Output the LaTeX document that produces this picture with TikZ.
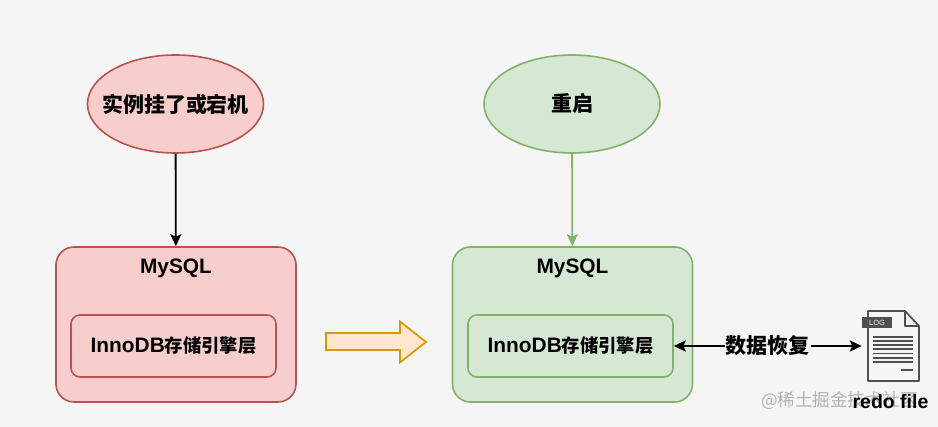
\documentclass[tikz,border=0pt]{standalone}
\usepackage{fontspec}
\setmainfont{Liberation Sans}
\newfontfamily\cjk{Noto Sans CJK SC}
\usepackage{tikz}
\usetikzlibrary{arrows.meta,positioning,shapes.geometric}

\definecolor{bgcol}{HTML}{F5F5F5}
\definecolor{redfill}{HTML}{F8CECC}
\definecolor{redline}{HTML}{B85450}
\definecolor{greenfill}{HTML}{D5E8D4}
\definecolor{greenline}{HTML}{82B366}
\definecolor{orangefill}{HTML}{FFE6CC}
\definecolor{orangeline}{HTML}{D79B00}
\definecolor{icongray}{HTML}{505050}

\begin{document}
\begin{tikzpicture}[x=1pt,y=-1pt,
    >={Stealth[length=12pt,width=11pt,inset=2.5pt]},
    state node/.style={ellipse,line width=1.6pt,minimum width=176pt,minimum height=98pt,
                       inner xsep=-14pt,inner ysep=0pt,
                       font=\cjk\bfseries\fontsize{21}{25}\selectfont},
    server box/.style={rectangle,rounded corners=18pt,line width=1.6pt,minimum width=240pt,minimum height=155pt},
    engine box/.style={rectangle,rounded corners=9pt,line width=1.6pt,minimum width=205pt,minimum height=62pt,
                       font=\bfseries\fontsize{20.9}{25}\selectfont},
    title node/.style={font=\bfseries\fontsize{20.9}{25}\selectfont,inner sep=0pt}]

  \path[use as bounding box,fill=bgcol] (0,0) rectangle (938,427);

  % before: crashed instance
  \node[state node,draw=redline,fill=redfill] (crash) at (175.5,104) {实例挂了或宕机};
  \node[server box,draw=redline,fill=redfill] (mysqlA) at (176,324.5) {};
  \node[title node] (titleA) at (176,268) {MySQL};
  \node[engine box,draw=redline,fill=redfill] (innoA) at (173.5,346)
       {InnoDB{\cjk\fontsize{18.3}{22}\selectfont 存储引擎层}};

  % after: restarted instance
  \node[state node,draw=greenline,fill=greenfill] (restart) at (572,104) {重启};
  \node[server box,draw=greenline,fill=greenfill] (mysqlB) at (572.5,324.5) {};
  \node[title node] (titleB) at (572.5,268) {MySQL};
  \node[engine box,draw=greenline,fill=greenfill] (innoB) at (570.5,346)
       {InnoDB{\cjk\fontsize{18.3}{22}\selectfont 存储引擎层}};

  % redo log file
  \node[minimum width=57pt,minimum height=70pt,inner sep=0pt] (redo) at (890.5,346) {};
  \draw[icongray,line width=1.7pt,fill=bgcol,line join=round]
    (868,311) -- (905,311) -- (919,326) -- (919,381) -- (868,381) -- cycle;
  \draw[icongray,line width=1.7pt,line join=round] (905,311) -- (905,326) -- (919,326);
  \fill[icongray] (862,317) rectangle (892,328);
  \node[text=bgcol,font=\fontsize{7.5}{8}\selectfont,inner sep=0pt] (logtag) at (877,322.5) {LOG};
  \foreach \y in {336.7,340.9,345.1,349.3,353.5,357.7,361.9}
    \draw[icongray,line width=1.7pt] (873,\y) -- (913,\y);
  \draw[icongray,line width=1.7pt] (900.5,370) -- (913,370);

  \node[anchor=west,text=black!30,font=\cjk\fontsize{17.5}{20}\selectfont,inner sep=0pt] (mark) at (761,401) {@稀土掘金技术社区};
  \node[font=\bfseries\fontsize{19.5}{22}\selectfont,inner sep=0pt] (redolabel) at (890.5,401.5) {redo file};

  % connectors
  \path[->,line width=1.8pt]
    (crash) edge (mysqlA)
    (restart) edge[greenline] (mysqlB);
  \draw[<->,line width=1.8pt] (innoB.east) -- node[fill=bgcol,inner sep=1pt,font=\cjk\bfseries\fontsize{21}{25}\selectfont] (recover) {数据恢复} (redo.west);

  % transition arrow
  \draw[orangeline,fill=orangefill,line width=1.7pt,line join=miter]
    (326,333) -- (400,333) -- (400,321.5) -- (426,342) -- (400,362.5) -- (400,350) -- (326,350) -- cycle;
\end{tikzpicture}
\end{document}
